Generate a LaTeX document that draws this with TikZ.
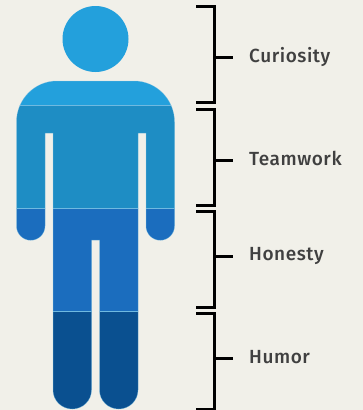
\documentclass[tikz,border=0pt]{standalone}
\usepackage{fontspec}
\setmainfont{Fira Sans}[BoldFont={Fira Sans Medium},LetterSpace=3]
\definecolor{bgc}{HTML}{F1F0E9}
\definecolor{bandA}{HTML}{23A0DC}
\definecolor{bandB}{HTML}{1E8DC4}
\definecolor{bandC}{HTML}{1B6DBE}
\definecolor{bandD}{HTML}{0A5090}
\definecolor{seam}{HTML}{6FB9E0}
\definecolor{labelc}{HTML}{404040}
\tikzset{
  bracketline/.style={draw=black,line width=3pt,line cap=butt,line join=miter},
  traitlabel/.style={anchor=base west,inner sep=0pt,text=labelc,font=\bfseries\fontsize{19}{21}\selectfont},
  bandseam/.style={draw=seam,line width=0.6pt},
}
\begin{document}
\begin{tikzpicture}[x=1pt,y=-1pt]
\path[fill=bgc] (0,0) rectangle (363,410);
\useasboundingbox (0,0) rectangle (363,410);
% head
\node[circle,fill=bandA,minimum size=66pt,inner sep=0pt] (head) at (95.5,39) {};
% body
\def\silhouette{
  (57,81) -- (134,81) arc[start angle=270,end angle=360,x radius=40.5,y radius=41]
  -- (174.5,226) arc[start angle=0,end angle=180,x radius=14.25,y radius=14.25]
  -- (146,133) -- (138,133) -- (138,390)
  arc[start angle=0,end angle=180,x radius=19.25,y radius=19]
  -- (99.5,240) -- (91.5,240) -- (91.5,390)
  arc[start angle=0,end angle=180,x radius=19.25,y radius=19]
  -- (53,133) -- (45,133) -- (45,226)
  arc[start angle=0,end angle=180,x radius=14.25,y radius=14.25]
  -- (16.5,122) arc[start angle=180,end angle=270,x radius=40.5,y radius=41] -- cycle}
\begin{scope}
  \clip \silhouette;
  \fill[bandA] (0,75) rectangle (190,105);
  \fill[bandB] (0,105) rectangle (190,208.5);
  \fill[bandC] (0,208.5) rectangle (190,311.5);
  \fill[bandD] (0,311.5) rectangle (190,410);
  \draw[bandseam] (0,105) -- (190,105) (0,208.5) -- (190,208.5) (0,311.5) -- (190,311.5);
\end{scope}
\draw[seam,line width=0.5pt,opacity=0.55] \silhouette;
% labels
\node[traitlabel] (curiosity) at (249,62.5) {Curiosity};
\node[traitlabel] (teamwork) at (249,165) {Teamwork};
\node[traitlabel] (honesty) at (249,260.5) {Honesty};
\node[traitlabel] (humor) at (249,363.5) {Humor};
% brackets
\coordinate (a1) at (196,6.5); \coordinate (a2) at (214.5,6.5); \coordinate (a3) at (214.5,102.5); \coordinate (a4) at (196,102.5);
\coordinate (b1) at (196,109); \coordinate (b2) at (214.5,109); \coordinate (b3) at (214.5,205.5); \coordinate (b4) at (196,205.5);
\coordinate (c1) at (196,211.5); \coordinate (c2) at (214.5,211.5); \coordinate (c3) at (214.5,307.5); \coordinate (c4) at (196,307.5);
\coordinate (d1) at (196,313.5); \coordinate (d2) at (214.5,313.5); \coordinate (d3) at (214.5,409); \coordinate (d4) at (196,409);
\draw[bracketline] (a1) -- (a2) -- (a3) -- (a4);
\draw[bracketline] (b1) -- (b2) -- (b3) -- (b4);
\draw[bracketline] (c1) -- (c2) -- (c3) -- (c4);
\draw[bracketline] (d1) -- (d2) -- (d3) -- (d4);
\coordinate (t1) at (233,57.5); \coordinate (t2) at (233,160.5); \coordinate (t3) at (233,256.5); \coordinate (t4) at (233,358.5);
\draw[bracketline] (214.5,57.5) -- (t1);
\draw[bracketline] (214.5,160.5) -- (t2);
\draw[bracketline] (214.5,256.5) -- (t3);
\draw[bracketline] (214.5,358.5) -- (t4);
\end{tikzpicture}
\end{document}
